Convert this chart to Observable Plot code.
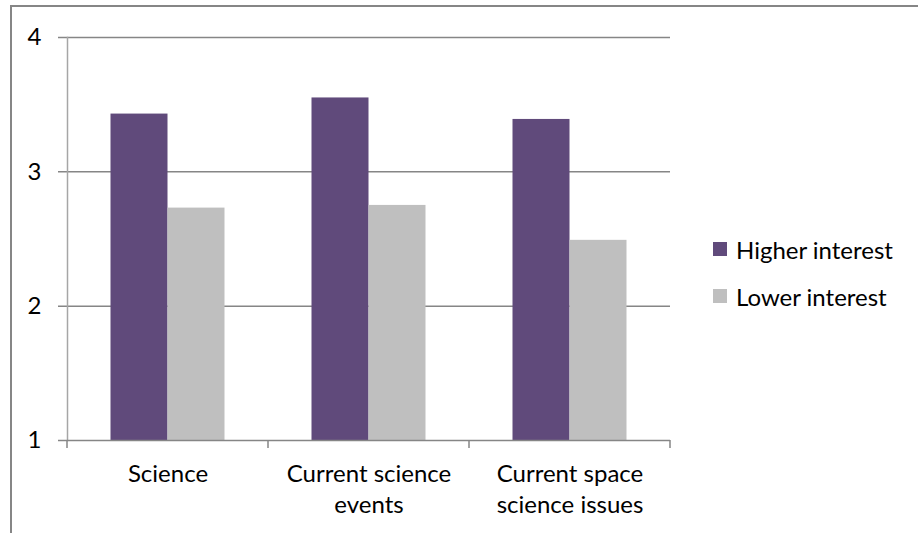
<!DOCTYPE html>
<html>
<head>
<meta charset="utf-8">
<script src="https://cdn.jsdelivr.net/npm/d3@7"></script>
<script src="https://cdn.jsdelivr.net/npm/@observablehq/plot@0.6"></script>
<style>
  html, body { margin: 0; padding: 0; background: #fff; }
  #wrap { position: relative; width: 918px; height: 533px; overflow: hidden; font-family: Lato, "Open Sans", sans-serif; }
  #border { position: absolute; left: 10px; top: 5px; width: 1000px; height: 1000px; border-top: 2px solid #868686; border-left: 2px solid #868686; }
  #chart { position: absolute; left: 0; top: 0; }
  #legend { position: absolute; left: 713px; top: 234px; font-size: 24px; color: #000; }
  .item { display: flex; align-items: center; height: 30px; margin-bottom: 17px; }
  .sw { width: 14px; height: 14px; margin-right: 9px; }
</style>
</head>
<body>
<div id="wrap">
  <div id="border"></div>
  <div id="chart"></div>
  <div id="legend"></div>
</div>
<script>
const categories = ["Science", "Current science\nevents", "Current space\nscience issues"];
const seriesNames = ["Higher interest", "Lower interest"];
const higherValues = [3.43, 3.55, 3.39];
const lowerValues = [2.73, 2.75, 2.49];
const seriesColors = ["#604a7b", "#bfbfbf"];
const yTicks = [1, 2, 3, 4];
const gridValues = [2, 3, 4];

const higher = categories.map((c, i) => ({category: c, value: higherValues[i]}));
const lower = categories.map((c, i) => ({category: c, value: lowerValues[i]}));

function boundaryTicks(index, scales, values, dims) {
  const x = scales.x, y = scales.y;
  const g = d3.create("svg:g");
  const xs = categories.map(c => x(c)).concat([x(categories[categories.length - 1]) + x.bandwidth()]);
  const y0 = y(yTicks[0]);
  g.selectAll("line").data(xs).join("line")
    .attr("x1", d => d).attr("x2", d => d)
    .attr("y1", y0).attr("y2", y0 + 8)
    .attr("stroke", "#868686").attr("stroke-width", 1.5);
  return g.node();
}

const chart = Plot.plot({
  width: 918,
  height: 533,
  marginLeft: 67,
  marginRight: 248,
  marginTop: 37,
  marginBottom: 93,
  style: {fontFamily: "Lato, 'Open Sans', sans-serif", fontSize: "24px", color: "#000", background: "transparent", overflow: "visible"},
  x: {domain: categories, padding: 0, axis: null, label: null},
  y: {domain: [1, 4], axis: null, label: null},
  marks: [
    Plot.ruleY(gridValues, {stroke: "#868686", strokeWidth: 1.5, strokeOpacity: 1, insetLeft: -9}),
    Plot.barY(higher, {x: "category", y1: 1, y2: "value", fill: seriesColors[0], insetLeft: 43.5, insetRight: 100.5}),
    Plot.barY(lower, {x: "category", y1: 1, y2: "value", fill: seriesColors[1], insetLeft: 100.5, insetRight: 43.5}),
    Plot.frame({anchor: "left", stroke: "#a6a6a6", strokeWidth: 1.5, strokeOpacity: 1}),
    Plot.ruleY([yTicks[0]], {stroke: "#868686", strokeWidth: 1.5, strokeOpacity: 1, insetLeft: -9}),
    Plot.axisY({ticks: yTicks, label: null, tickSize: 0, tickPadding: 26, tickFormat: d3.format("d"), fontSize: 24, fill: "#000"}),
    Plot.axisX({label: null, tickSize: 0, tickPadding: 20, lineHeight: 1.28, fontSize: 24, fill: "#000", textAnchor: "middle"}),
    boundaryTicks
  ]
});
document.getElementById("chart").appendChild(chart);

const legend = d3.select("#legend");
seriesNames.forEach((s, i) => {
  const item = legend.append("div").attr("class", "item");
  item.append("div").attr("class", "sw").style("background", seriesColors[i]);
  item.append("span").text(s);
});
</script>
</body>
</html>
